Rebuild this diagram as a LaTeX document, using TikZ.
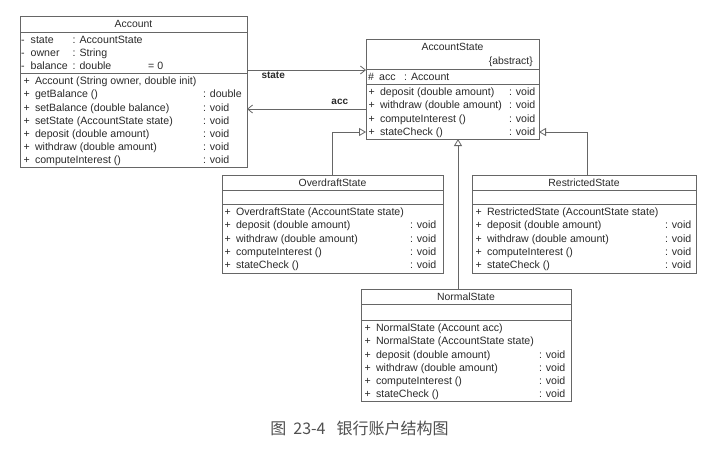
\documentclass[tikz,border=0pt]{standalone}
\usepackage{fontspec}
\usepackage{array}
\setmainfont{Liberation Sans}
\newfontfamily\cjk{Noto Sans CJK SC}
\usetikzlibrary{arrows.meta}

\definecolor{umlline}{HTML}{666666}
\definecolor{umltext}{HTML}{2A2A2A}
\definecolor{captiontext}{HTML}{505050}

\tikzset{
  classbox/.style={draw=umlline, line width=0.8pt, anchor=north west, inner sep=0pt, outer sep=0pt},
  divider/.style={draw=umlline, line width=0.8pt},
  classname/.style={inner sep=0pt, text=umltext, font=\fontsize{10.4}{12}\selectfont},
  members/.style={anchor=north west, inner sep=0pt, text=umltext, font=\fontsize{10.6}{13.2}\selectfont},
  rolename/.style={inner sep=0pt, text=umltext, font=\bfseries\fontsize{10}{12}\selectfont},
  assoc/.style={draw=umlline, line width=0.8pt, -{Straight Barb[length=5pt,width=8pt]}},
  inherit/.style={draw=umlline, line width=0.8pt, -{Triangle[open,length=7pt,width=8pt,fill=white]}}
}

\begin{document}
\begin{tikzpicture}[x=1pt,y=-1pt]
  \path[fill=white, use as bounding box] (0,0) rectangle (727,453);

  % Account
  \node[classbox, minimum width=227pt, minimum height=151pt] (account) at (20,16) {};
  \draw[divider] (account.west |- 0,32) -- (account.east |- 0,32);
  \draw[divider] (account.west |- 0,73) -- (account.east |- 0,73);
  \node[classname] (account-name) at (133.5,24) {Account};
  \node[members] (account-attrs) at (21,33.8) {\begin{tabular}{@{}w{l}{9.5pt}@{}w{l}{42pt}@{}w{l}{75.5pt}@{}l@{}}
    - & state & : AccountState & \\
    - & owner & : String & \\
    - & balance & : double & = 0
  \end{tabular}};
  \node[members] (account-ops) at (23.3,75.2) {\begin{tabular}{@{}w{l}{11.5pt}@{}w{l}{168pt}@{}l@{}}
    + & Account (String owner, double init) & \\
    + & getBalance () & : double \\
    + & setBalance (double balance) & : void \\
    + & setState (AccountState state) & : void \\
    + & deposit (double amount) & : void \\
    + & withdraw (double amount) & : void \\
    + & computeInterest () & : void
  \end{tabular}};

  % AccountState
  \node[classbox, minimum width=173pt, minimum height=100pt] (accstate) at (366,39) {};
  \draw[divider] (accstate.west |- 0,69) -- (accstate.east |- 0,69);
  \draw[divider] (accstate.west |- 0,84) -- (accstate.east |- 0,84);
  \node[classname] (accstate-name) at (452.5,47) {AccountState};
  \node[classname, anchor=base east] (accstate-abstract) at (533,64.7) {\{abstract\}};
  \node[members] (accstate-attrs) at (367.8,71.5) {\begin{tabular}{@{}w{l}{11.2pt}@{}w{l}{25pt}@{}l@{}}
    \# & acc & : Account
  \end{tabular}};
  \node[members] (accstate-ops) at (368.3,86.2) {\begin{tabular}{@{}w{l}{11.5pt}@{}w{l}{129pt}@{}l@{}}
    + & deposit (double amount) & : void \\
    + & withdraw (double amount) & : void \\
    + & computeInterest () & : void \\
    + & stateCheck () & : void
  \end{tabular}};

  % OverdraftState
  \node[classbox, minimum width=221pt, minimum height=98pt] (overdraft) at (222,175) {};
  \draw[divider] (overdraft.west |- 0,190) -- (overdraft.east |- 0,190);
  \draw[divider] (overdraft.west |- 0,204) -- (overdraft.east |- 0,204);
  \node[classname] (overdraft-name) at (332.5,182.3) {OverdraftState};
  \node[members] (overdraft-ops) at (224.3,206.2) {\begin{tabular}{@{}w{l}{11.5pt}@{}w{l}{174pt}@{}l@{}}
    + & OverdraftState (AccountState state) & \\
    + & deposit (double amount) & : void \\
    + & withdraw (double amount) & : void \\
    + & computeInterest () & : void \\
    + & stateCheck () & : void
  \end{tabular}};

  % RestrictedState
  \node[classbox, minimum width=224pt, minimum height=98pt] (restricted) at (472,175) {};
  \draw[divider] (restricted.west |- 0,190) -- (restricted.east |- 0,190);
  \draw[divider] (restricted.west |- 0,204) -- (restricted.east |- 0,204);
  \node[classname] (restricted-name) at (584,182.3) {RestrictedState};
  \node[members] (restricted-ops) at (475.3,206.2) {\begin{tabular}{@{}w{l}{11.5pt}@{}w{l}{178pt}@{}l@{}}
    + & RestrictedState (AccountState state) & \\
    + & deposit (double amount) & : void \\
    + & withdraw (double amount) & : void \\
    + & computeInterest () & : void \\
    + & stateCheck () & : void
  \end{tabular}};

  % NormalState
  \node[classbox, minimum width=210pt, minimum height=112pt] (normal) at (361,289) {};
  \draw[divider] (normal.west |- 0,304) -- (normal.east |- 0,304);
  \draw[divider] (normal.west |- 0,320) -- (normal.east |- 0,320);
  \node[classname] (normal-name) at (466,296.7) {NormalState};
  \node[members] (normal-ops) at (364.3,322.2) {\begin{tabular}{@{}w{l}{11.5pt}@{}w{l}{163pt}@{}l@{}}
    + & NormalState (Account acc) & \\
    + & NormalState (AccountState state) & \\
    + & deposit (double amount) & : void \\
    + & withdraw (double amount) & : void \\
    + & computeInterest () & : void \\
    + & stateCheck () & : void
  \end{tabular}};

  % associations
  \draw[assoc] (account.east |- 0,70) -- node[rolename, pos=0.22, below=2pt] (state-role) {state} (accstate.west |- 0,70);
  \draw[assoc] (accstate.west |- 0,109) -- node[rolename, pos=0.22, above=4pt] (acc-role) {acc} (account.east |- 0,109);

  % generalizations
  \draw[inherit] (overdraft.north) |- (accstate.west |- 0,132);
  \draw[inherit] ([xshift=3pt]restricted.north) |- (accstate.east |- 0,132);
  \draw[inherit] (normal.north -| 458,0) -- (accstate.south -| 458,0);

  % caption
  \node[inner sep=0pt, text=captiontext, font=\cjk\fontsize{16}{18}\selectfont] (caption) at (359.5,428)
    {图\hspace{7pt}23-4\hspace{11pt}银行账户结构图};
\end{tikzpicture}
\end{document}
